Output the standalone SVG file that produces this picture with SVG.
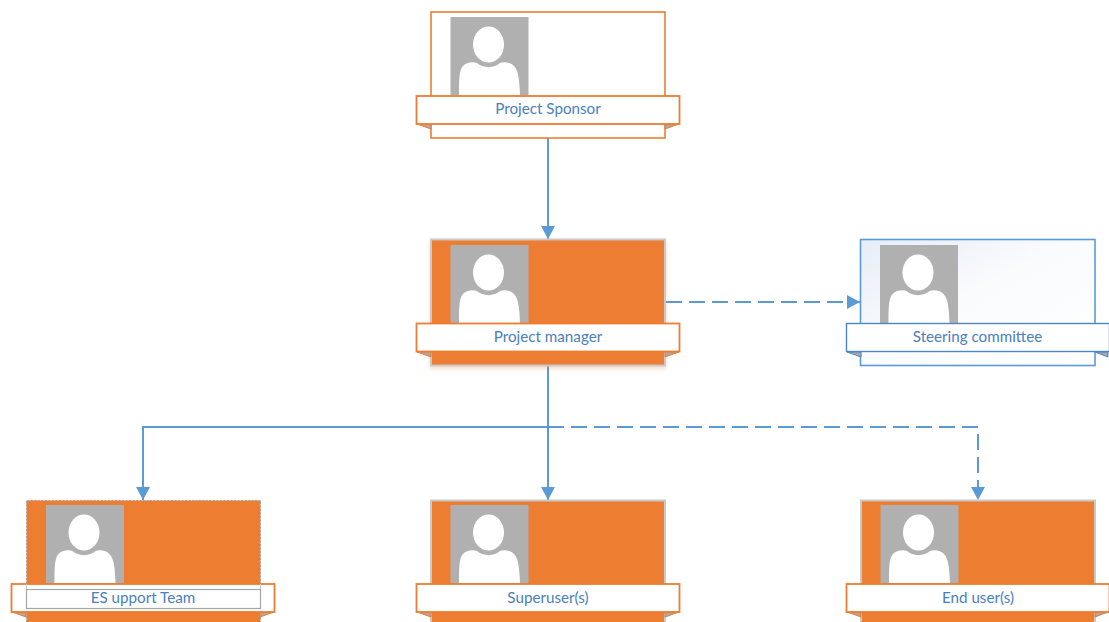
<svg xmlns="http://www.w3.org/2000/svg" width="1109" height="622" viewBox="0 0 1109 622">
<style>
.lbl{font-family:Lato,"Open Sans",sans-serif;font-size:15.200px;fill:#4a80bd;text-anchor:middle}
.conn{fill:none;stroke:#5b9bd5;stroke-width:2}
.dash{stroke-dasharray:16 7}
.card-o{fill:#ed7d31;stroke:#c9c9c9;stroke-width:2}
.card-w{fill:#fff;stroke:#ed7d31;stroke-width:1.6}
.rib-o{fill:#fff;stroke:#ed7d31;stroke-width:1.8}
.rib-b{fill:#fff;stroke:#4f86c0;stroke-width:1.4}
.fold{fill:#a9a9a9;stroke:#ed7d31;stroke-width:1}
.fold-b{fill:#a9a9a9;stroke:#4f86c0;stroke-width:1}
</style>
<defs>
<marker id="ah" markerUnits="userSpaceOnUse" markerWidth="13" markerHeight="14" refX="13" refY="7" orient="auto"><path d="M0 0L13 7L0 14Z" fill="#5b9bd5"/></marker>
<linearGradient id="sg" x1="0" y1="0" x2="1" y2="1"><stop offset="0" stop-color="#e6edf7"/><stop offset=".45" stop-color="#fafbfd"/><stop offset="1" stop-color="#fff"/></linearGradient>
<filter id="sh" x="-5%" y="-5%" width="110%" height="115%"><feDropShadow dx="0" dy="2" stdDeviation="2" flood-color="#ed7d31" flood-opacity=".3"/></filter>
<g id="avatar"><rect width="78" height="78" fill="#b0b0b0"/><ellipse cx="38" cy="27.500" rx="15.500" ry="18" fill="#fff"/><path d="M8.500 78C8.500 64 8.500 54 12 49.500C15.500 45.500 22 44.500 26.500 46C32 51.500 44 51.500 49.500 46C54 44.500 60.500 45.500 64 49.500C68 54 69 64 69.500 78Z" fill="#fff"/></g>
</defs>
<g id="connectors">
<path class="conn" d="M548 138V239" marker-end="url(#ah)"/>
<path class="conn dash" d="M666 302H860" marker-end="url(#ah)"/>
<path class="conn" d="M548 366V500" marker-end="url(#ah)"/>
<path class="conn" d="M548 427H143V500" marker-end="url(#ah)"/>
<path class="conn dash" d="M548 427H978V500" marker-end="url(#ah)"/>
</g>
<g id="node-sponsor">
<rect class="card-w" x="431" y="12" width="234" height="126"/>
<use href="#avatar" x="450.500" y="17"/>
<path class="fold" d="M417 124L431 129V124ZM679 124L665 129V124Z"/>
<rect class="rib-o" x="416.500" y="96" width="263" height="28"/>
<text class="lbl" x="548" y="114">Project Sponsor</text>
</g>
<g id="node-manager">
<rect class="card-o" x="431" y="239.500" width="234" height="126" filter="url(#sh)"/>
<use href="#avatar" x="450.500" y="245"/>
<path class="fold" d="M417 352L431 357V352ZM679 352L665 357V352Z"/>
<rect class="rib-o" x="416.500" y="323.500" width="263" height="28"/>
<text class="lbl" x="548" y="342">Project manager</text>
</g>
<g id="node-steering">
<rect x="860.500" y="239.500" width="234.500" height="126" fill="url(#sg)" stroke="#5b9bd5" stroke-width="1.600"/>
<use href="#avatar" x="880" y="245"/>
<path class="fold-b" d="M847 352L861 357V352ZM1095 352L1108 357V352Z"/>
<rect class="rib-b" x="846.500" y="323.500" width="263" height="28"/>
<text class="lbl" x="977.500" y="342">Steering committee</text>
</g>
<g id="node-es">
<rect x="26.500" y="500.500" width="234" height="123" fill="#ed7d31"/>
<path d="M26.500 622V500.500H260.500V622" fill="none" stroke="#a5a5a5" stroke-dasharray="2 1.500"/>
<use href="#avatar" x="46" y="505"/>
<path class="fold" d="M12 612L26 617V612ZM274 612L260 617V612Z"/>
<rect class="rib-o" x="11.500" y="584" width="263" height="28"/>
<rect x="26.500" y="589.500" width="234" height="19" fill="#fff" stroke="#a5a5a5" stroke-width="1.200"/>
<path d="M26.500 584V589M260.500 584V589" stroke="#c9c9c9"/>
<text class="lbl" x="143" y="603">ES upport Team</text>
</g>
<g id="node-superuser">
<rect class="card-o" x="431" y="500.500" width="234" height="124"/>
<use href="#avatar" x="450.500" y="505"/>
<path class="fold" d="M417 612L431 617V612ZM679 612L665 617V612Z"/>
<rect class="rib-o" x="416.500" y="584" width="263" height="28"/>
<text class="lbl" x="548" y="603">Superuser(s)</text>
</g>
<g id="node-end">
<rect class="card-o" x="861" y="500.500" width="234" height="124"/>
<use href="#avatar" x="880.500" y="505"/>
<path class="fold" d="M847 612L861 617V612ZM1108 612L1095 617V612Z"/>
<rect class="rib-o" x="846.500" y="584" width="263" height="28"/>
<text class="lbl" x="978" y="603">End user(s)</text>
</g>
</svg>
